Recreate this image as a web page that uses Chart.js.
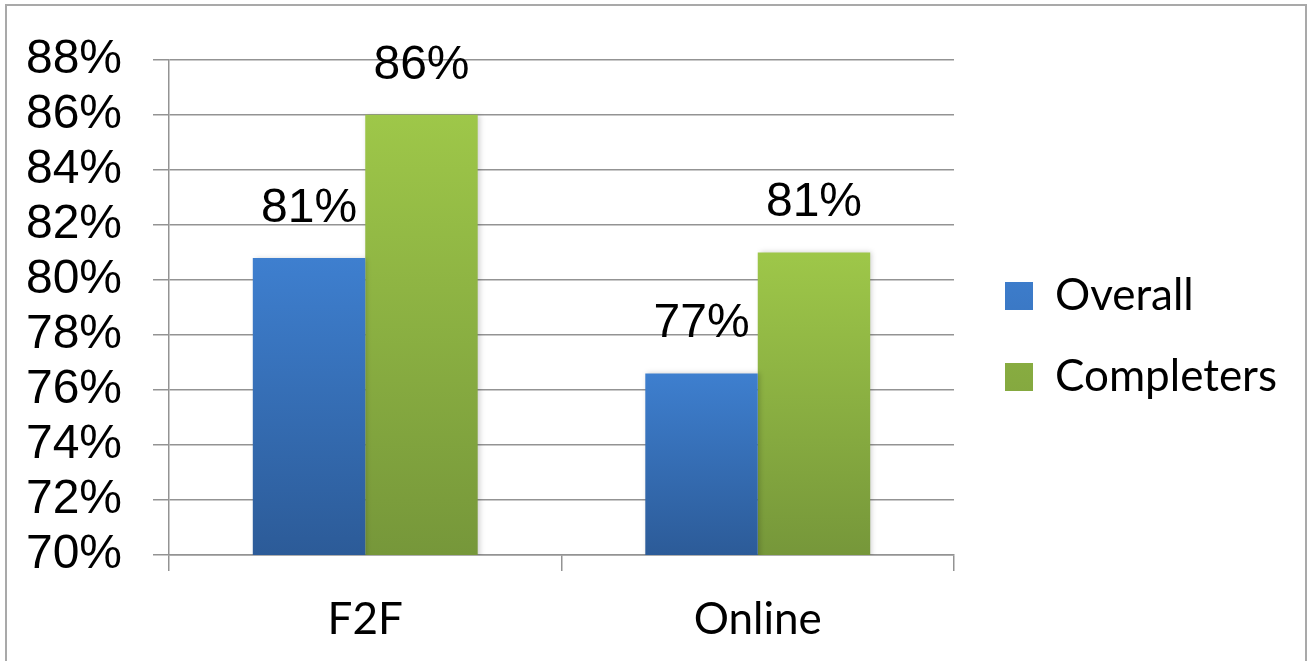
<!DOCTYPE html>
<html>
<head>
<meta charset="utf-8">
<script src="https://cdn.jsdelivr.net/npm/chart.js@4"></script>
<style>
  html, body { margin: 0; padding: 0; background: #fff; overflow: hidden; }
  #wrap { position: relative; width: 1307px; height: 661px; }
  #frame { position: absolute; left: 5px; top: 4px; width: 1298px; height: 700px;
           border: 2px solid #a9a9a9; pointer-events: none; }
</style>
</head>
<body>
<div id="wrap">
  <canvas id="myChart" width="1307" height="661"></canvas>
  <div id="frame"></div>
</div>
<script>
const categories = ['F2F', 'Online']
const overall = [80.8, 76.6]
const completers = [86.0, 81.0]
const seriesNames = ['Overall', 'Completers']
const yTicks = [70, 72, 74, 76, 78, 80, 82, 84, 86, 88]

const gridColor = '#939393'

// vertical gradient per bar, from the bar top down to the axis
function barGradient(top, bottom) {
  return function (context) {
    const chart = context.chart
    const area = chart.chartArea
    if (!area) return top
    let v = context.raw
    if (v === undefined) v = context.dataset.data[0]
    const y = chart.scales.y.getPixelForValue(v)
    const g = chart.ctx.createLinearGradient(0, y, 0, area.bottom)
    g.addColorStop(0, top)
    g.addColorStop(1, bottom)
    return g
  }
}

const barLabels = {
  id: 'barLabels',
  beforeDatasetsDraw(chart) {
    const c = chart.ctx
    c.save()
    c.shadowColor = 'rgba(0,0,0,0.18)'
    c.shadowBlur = 5
    c.shadowOffsetX = 2
  },
  afterDatasetsDraw(chart) {
    const c = chart.ctx
    c.restore()
    c.save()
    c.font = '48px "Liberation Sans", Arial, sans-serif'
    c.fillStyle = '#000'
    c.textAlign = 'center'
    c.textBaseline = 'alphabetic'
    chart.data.datasets.forEach((ds, i) => {
      chart.getDatasetMeta(i).data.forEach((bar, j) => {
        c.fillText(Math.round(ds.data[j]) + '%', bar.x, bar.y - 36)
      })
    })
    c.restore()
  },
  afterLayout(chart) {
    // nudge legend block to sit like the original
    const lg = chart.legend
    const dx = 1005 - (lg.left + 37)
    lg.left += dx
    lg.right += dx
    lg.top -= 23
    lg.bottom -= 23
  }
}

const ctx = document.getElementById('myChart')

new Chart(ctx, {
  type: 'bar',
  data: {
    labels: categories,
    datasets: [
      {
        label: seriesNames[0],
        data: overall,
        backgroundColor: barGradient('#3e7fcf', '#2c5b98'),
        borderWidth: 0,
        categoryPercentage: 0.573,
        barPercentage: 1.0
      },
      {
        label: seriesNames[1],
        data: completers,
        backgroundColor: barGradient('#9ec749', '#76973a'),
        borderWidth: 0,
        categoryPercentage: 0.573,
        barPercentage: 1.0
      }
    ]
  },
  plugins: [barLabels],
  options: {
    responsive: false,
    animation: false,
    layout: { padding: { left: 0, top: 58, right: 35, bottom: 0 } },
    plugins: {
      tooltip: { enabled: false },
      legend: {
        position: 'right',
        labels: {
          color: '#000',
          font: { family: 'Lato', size: 44 },
          boxWidth: 28,
          boxHeight: 28,
          padding: 37
        }
      }
    },
    scales: {
      x: {
        afterFit(s) { s.height = 106 },
        grid: {
          drawOnChartArea: false,
          drawTicks: true,
          tickLength: 16,
          color: gridColor,
          lineWidth: 1.5
        },
        border: { color: gridColor, width: 1.5 },
        ticks: {
          color: '#000',
          padding: 22,
          font: { family: 'Lato', size: 44 }
        }
      },
      y: {
        min: yTicks[0],
        max: yTicks[yTicks.length - 1],
        afterFit(s) { s.width = 169 },
        afterBuildTicks(s) { s.ticks = yTicks.map(v => ({ value: v })) },
        grid: {
          color: gridColor,
          lineWidth: 1.5,
          tickLength: 16
        },
        border: { color: gridColor, width: 1.5 },
        ticks: {
          autoSkip: false,
          color: '#000',
          padding: 31,
          font: { family: '"Liberation Sans", Arial, sans-serif', size: 48 },
          callback: v => v + '%'
        }
      }
    }
  }
})
</script>
</body>
</html>
